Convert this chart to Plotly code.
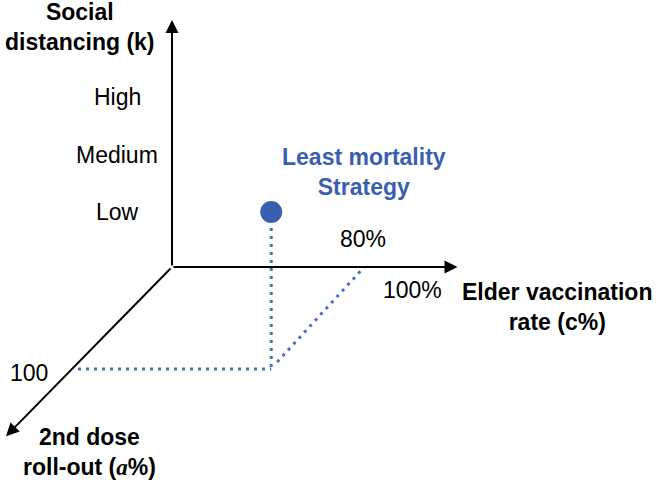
import plotly.graph_objects as go

# ---- data (diagram values) ----
k_levels = ["Low", "Medium", "High"]          # social distancing levels
c_ticks = [80, 100]                            # elder vaccination rate ticks (%)
c_tick_labels = ["80%", "100%"]
a_ticks = [100]                                # 2nd dose roll-out ticks (%)
a_tick_labels = ["100"]
strategy_c = [80]                              # least mortality strategy
strategy_a = [100]
strategy_k = ["Low"]
strategy_label = ["Least mortality<br>Strategy"]

# ---- oblique projection of (c, a, k) onto the page ----
O = (172, 267)
EX = 2.44
EA = (-1.0, 1.02)
C_MAX, A_MAX, Z_MAX = 117, 166, 247


def k_height(level):
    return 55 + 57.5 * k_levels.index(level)


def proj(c=0.0, a=0.0, h=0.0):
    return O[0] + EX * c + EA[0] * a, O[1] + EA[1] * a - h


BLUE = "#3a5fb0"
DOT_BLUE = "#4a70c0"
FONT = "Liberation Sans, Arial, Helvetica, sans-serif"
FS = 23

fig = go.Figure()

# guide lines from the strategy point
for c, a, k in zip(strategy_c, strategy_a, strategy_k):
    fx, fy = proj(c, a, 0)
    px, py = fx + 4, O[1] - k_height(k)
    ax_, ay_ = proj(0, a, 0)
    cx, cy = proj(c, 0, 0)
    dash = dict(color=DOT_BLUE, width=3, dash="3px,5px")
    fig.add_trace(go.Scatter(x=[px, px], y=[py + 16, fy], mode="lines", line=dash, hoverinfo="skip"))
    fig.add_trace(go.Scatter(x=[ax_ + 6, px], y=[ay_, fy], mode="lines", line=dash, hoverinfo="skip"))
    fig.add_trace(go.Scatter(x=[px + 6, cx - 3], y=[fy - 7, cy], mode="lines", line=dash, hoverinfo="skip"))
    fig.add_trace(go.Scatter(x=[px], y=[py], mode="markers",
                             marker=dict(size=22, color=BLUE), hoverinfo="skip"))
    fig.add_annotation(x=px + 93, y=py - 40, text="<b>" + strategy_label[0] + "</b>",
                       showarrow=False, font=dict(family=FONT, size=FS, color=BLUE),
                       xanchor="center", yanchor="middle")

# axes as arrows
for (hx, hy) in [proj(C_MAX, 0, 0), proj(0, A_MAX, 0), proj(0, 0, Z_MAX)]:
    fig.add_annotation(x=hx, y=hy, ax=O[0], ay=O[1], axref="x", ayref="y",
                       xref="x", yref="y", text="", showarrow=True,
                       arrowhead=2, arrowsize=1.3, arrowwidth=2, arrowcolor="black",
                       standoff=0, startstandoff=0)

# k level labels
for lvl in k_levels:
    x, y = proj(0, 0, k_height(lvl))
    fig.add_annotation(x=x - 55, y=y, text=lvl, showarrow=False,
                       font=dict(family=FONT, size=FS, color="black"))

# c tick labels (alternate above / below axis)
for i, (c, lab) in enumerate(zip(c_ticks, c_tick_labels)):
    x, y = proj(c, 0, 0)
    fig.add_annotation(x=x - 4, y=y + (-28 if i == 0 else 23), text=lab, showarrow=False,
                       font=dict(family=FONT, size=FS, color="black"))

# a tick labels
for a, lab in zip(a_ticks, a_tick_labels):
    x, y = proj(0, a, 0)
    fig.add_annotation(x=x - 43, y=y + 4, text=lab, showarrow=False,
                       font=dict(family=FONT, size=FS, color="black"))

# axis titles
zx, zy = proj(0, 0, Z_MAX)
fig.add_annotation(x=zx - 92, y=zy + 7, text="<b>Social<br>distancing (k)</b>",
                   showarrow=False, font=dict(family=FONT, size=FS, color="black"))
cx, cy = proj(C_MAX, 0, 0)
fig.add_annotation(x=cx + 100, y=cy + 40, text="<b>Elder vaccination<br>rate (c%)</b>",
                   showarrow=False, font=dict(family=FONT, size=FS, color="black"))
ax_, ay_ = proj(0, A_MAX, 0)
fig.add_annotation(x=ax_ + 83, y=ay_ + 16,
                   text="<b>2nd dose<br>roll-out (<span style=\"font-family:'Liberation Serif',serif;font-style:italic\">a</span>%)</b>",
                   showarrow=False, font=dict(family=FONT, size=FS, color="black"))

fig.update_layout(
    width=660, height=481,
    margin=dict(l=0, r=0, t=0, b=0),
    paper_bgcolor="white", plot_bgcolor="white",
    showlegend=False,
    xaxis=dict(range=[0, 660], visible=False, fixedrange=True),
    yaxis=dict(range=[481, 0], visible=False, fixedrange=True),
)

fig.write_html("out.html",
               config={"displayModeBar": False, "staticPlot": True},
               post_script="document.body.style.margin='0';document.body.style.overflow='hidden';")
